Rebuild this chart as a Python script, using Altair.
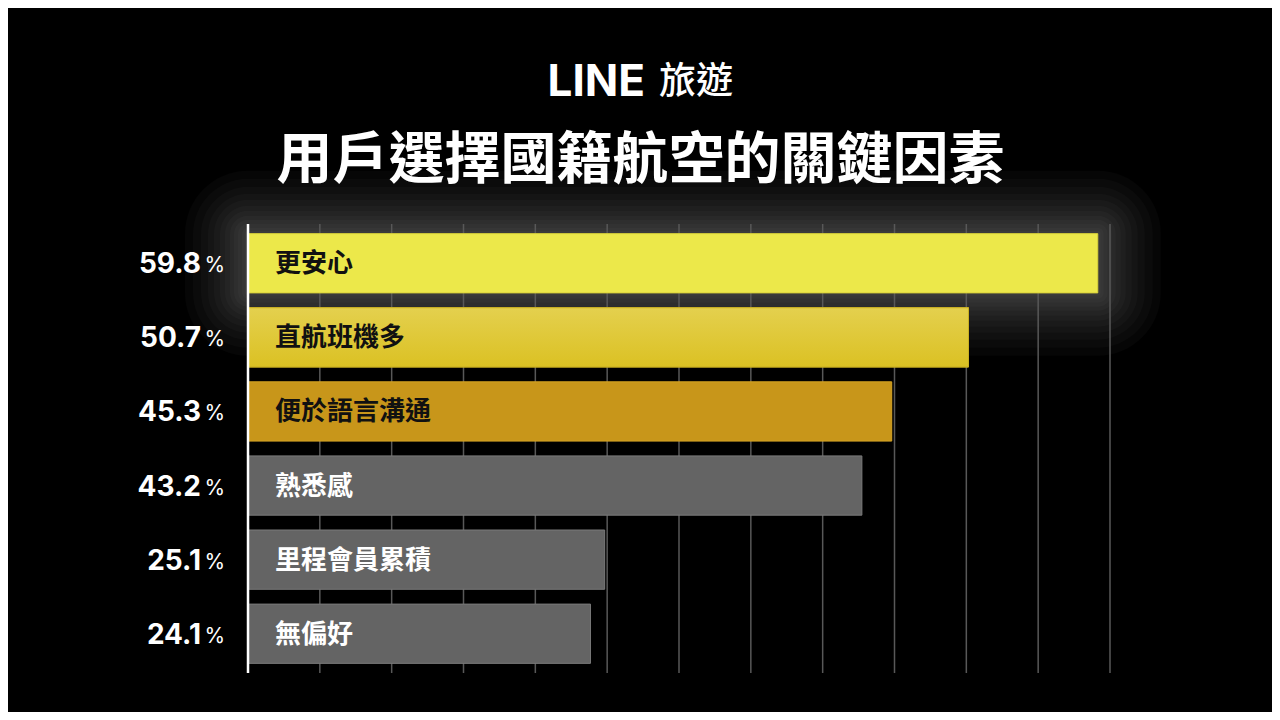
import altair as alt
import pandas as pd

# ---- data ----
categories = ["更安心", "直航班機多", "便於語言溝通", "熟悉感", "里程會員累積", "無偏好"]
values = [59.8, 50.7, 45.3, 43.2, 25.1, 24.1]
grid_ticks = [0, 5.055, 10.11, 15.165, 20.22, 25.275, 30.33, 35.385, 40.44, 45.495, 50.55, 55.605, 60.66]
brand = ["LINE", "旅遊"]
main_title = ["用戶選擇國籍航空的關鍵因素"]

# ---- styles ----
bar_fill = ["#ECE84A", "#DEC62C", "#C8961A", "#646464", "#646464", "#646464"]
bar_stroke = ["#D9D23A", "#C9B022", "#D6A424", "#7A7A7A", "#7A7A7A", "#7A7A7A"]
label_color = ["#111111", "#111111", "#111111", "#FFFFFF", "#FFFFFF", "#FFFFFF"]
glow_steps = [3, 6, 10, 14, 18, 23, 28, 34, 40, 47, 55, 63]
CJK = "Noto Sans CJK TC"
LAT = "Inter"
PW, PH = 862, 449
BAR_H = 59

df = pd.DataFrame({"cat": categories, "value": values})
df["zero"] = 0

xs = alt.Scale(domain=[0, grid_ticks[-1]], nice=False, zero=False)
ys = alt.Scale(domain=categories, paddingInner=0.2, paddingOuter=0.13)
X0 = alt.X("zero:Q", scale=xs, axis=None)
Y = alt.Y("cat:N", sort=categories, scale=ys, axis=None)

base = alt.Chart(df)

# soft glow behind the top bar
glow_layers = []
for d in glow_steps:
    glow_layers.append(
        base.transform_filter(alt.datum.cat == categories[0])
        .mark_bar(size=BAR_H + 2 * d, xOffset=-d, x2Offset=d, cornerRadius=d,
                  color="#FFFFFF", opacity=0.025)
        .encode(x=X0, x2="value:Q", y=Y)
    )

grid = alt.Chart(pd.DataFrame({"g": grid_ticks})).mark_rule(
    color="#585858", strokeWidth=1.5
).encode(x=alt.X("g:Q", scale=xs, axis=None))

bars = base.mark_bar(strokeWidth=1).encode(
    x=X0, x2="value:Q", y=Y,
    fill=alt.Fill("cat:N", scale=alt.Scale(domain=categories, range=bar_fill), legend=None),
    stroke=alt.Stroke("cat:N", scale=alt.Scale(domain=categories, range=bar_stroke), legend=None),
)

grad = alt.Gradient(
    gradient="linear", x1=0, x2=0, y1=0, y2=1,
    stops=[alt.GradientStop(color="#E4D04E", offset=0),
           alt.GradientStop(color="#DBC123", offset=1)],
)
bar2 = base.transform_filter(alt.datum.cat == categories[1]).mark_bar(
    color=grad, stroke="#C9B022", strokeWidth=1
).encode(x=X0, x2="value:Q", y=Y)

axis_line = alt.Chart(pd.DataFrame({"a": [0]})).mark_rule(
    color="#FFFFFF", strokeWidth=2.5
).encode(x=alt.X("a:Q", scale=xs, axis=None))

labels = base.mark_text(
    align="left", baseline="middle", dx=27, dy=1, font=CJK, fontSize=26, fontWeight="bold"
).encode(
    x=X0, y=Y, text="cat:N",
    color=alt.Color("cat:N", scale=alt.Scale(domain=categories, range=label_color), legend=None),
)

nums = base.mark_text(
    align="right", baseline="middle", dx=-47, dy=2, font=LAT, fontSize=28, fontWeight="bold",
    color="#FFFFFF",
).encode(x=X0, y=Y, text=alt.Text("value:Q", format=".1f"))

pct = base.mark_text(
    align="right", baseline="middle", dx=-23, dy=3, font=LAT, fontSize=21, fontWeight="normal",
    color="#FFFFFF",
).encode(x=X0, y=Y, text=alt.value("%"))

t_line = alt.Chart(pd.DataFrame({"t": [brand[0]]})).mark_text(
    align="right", baseline="middle", font=LAT, fontSize=44, fontWeight="bold", color="#FFFFFF"
).encode(x=alt.value(397), y=alt.value(-141), text="t:N")

t_travel = alt.Chart(pd.DataFrame({"t": [brand[1]]})).mark_text(
    align="left", baseline="middle", font=CJK, fontSize=37, fontWeight=500, color="#FFFFFF"
).encode(x=alt.value(411), y=alt.value(-141), text="t:N")

t_main = alt.Chart(pd.DataFrame({"t": main_title})).mark_text(
    align="center", baseline="middle", font=CJK, fontSize=56, fontWeight="bold", color="#FFFFFF"
).encode(x=alt.value(392.5), y=alt.value(-63), text="t:N")

chart = alt.layer(
    *glow_layers, grid, bars, bar2, axis_line, labels, nums, pct, t_line, t_travel, t_main
).resolve_scale(color="independent").properties(
    width=PW, height=PH,
    autosize=alt.AutoSizeParams(type="none"),
    padding={"left": 240, "top": 216, "right": 162, "bottom": 39},
    background="#000000",
).configure_view(stroke=None)

chart.save("out.html", embed_options={"renderer": "svg", "actions": False})
